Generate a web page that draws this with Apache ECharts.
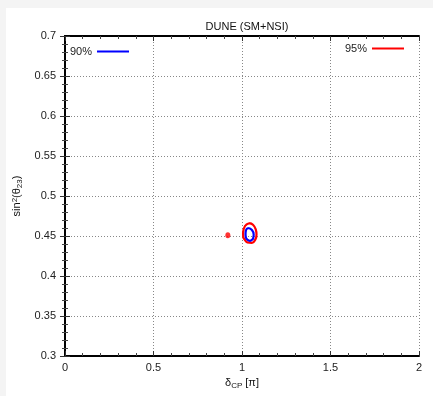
<!DOCTYPE html>
<html>
<head>
<meta charset="utf-8">
<script src="https://cdn.jsdelivr.net/npm/echarts@6/dist/echarts.min.js"></script>
<style>html,body{margin:0;padding:0;background:#f4f4f4}#c{width:433px;height:396px}</style>
</head>
<body>
<div id="c"></div>
<script>
// 95% contour (red), closed loop
const red95X = [1.040, 1.062, 1.078, 1.082, 1.075, 1.056, 1.030, 1.017, 1.007, 1.006, 1.017, 1.040];
const red95Y = [0.4660, 0.4640, 0.4580, 0.4520, 0.4455, 0.4415, 0.4420, 0.4450, 0.4490, 0.4540, 0.4625, 0.4660];
// 90% contour (blue), closed loop
const blue90X = [1.034, 1.056, 1.066, 1.064, 1.058, 1.045, 1.030, 1.022, 1.020, 1.023, 1.034];
const blue90Y = [0.4600, 0.4575, 0.4520, 0.4480, 0.4455, 0.4440, 0.4455, 0.4480, 0.4525, 0.4575, 0.4600];
// isolated 95% island
const redDotX = [0.92];
const redDotY = [0.451];
const xTicks = [0, 0.5, 1, 1.5, 2];
const yTicks = [0.3, 0.35, 0.4, 0.45, 0.5, 0.55, 0.6, 0.65, 0.7];

const zip = (a, b) => a.map((v, i) => [v, b[i]]);
const font = 'Liberation Sans, Arial, sans-serif';
const chart = echarts.init(document.getElementById('c'));
const axisCommon = {
  axisLine: { show: true, lineStyle: { color: '#000', width: 2 } },
  axisTick: { show: true, inside: true, length: 5, lineStyle: { color: '#333', width: 1 } },
  minorTick: { show: true, splitNumber: 5, length: 3, lineStyle: { color: '#444' } },
};
chart.setOption({
  backgroundColor: '#f4f4f4',
  animation: false,
  graphic: [{ type: 'rect', z: -10, shape: { x: 6, y: 8, width: 433, height: 396 }, style: { fill: '#fff' } }],
  title: { text: 'DUNE (SM+NSI)', left: 242, textAlign: 'center', top: 16, textStyle: { fontFamily: font, fontSize: 11, fontWeight: 'normal', color: '#111' } },
  legend: [
    { data: ['90%'], left: 65, top: 41, align: 'right', icon: 'rect', itemWidth: 32, itemHeight: 2, itemGap: 6,
      textStyle: { fontFamily: font, fontSize: 11, color: '#222' } },
    { data: ['95%'], right: 24, top: 38, align: 'right', icon: 'rect', itemWidth: 32, itemHeight: 2,
      textStyle: { fontFamily: font, fontSize: 11, color: '#222' } }
  ],
  grid: { left: 65, right: 14, top: 36, bottom: 40 },
  xAxis: [
    Object.assign({ type: 'value', min: 0, max: 2, interval: 0.5, position: 'bottom',
      name: 'δ{sub|CP} [π]', nameLocation: 'middle', nameGap: 20,
      nameTextStyle: { fontFamily: font, fontSize: 11, color: '#111', rich: { sub: { fontSize: 8, verticalAlign: 'bottom', padding: [4, 0, 0, 0], fontFamily: font } } },
      axisLabel: { fontFamily: font, fontSize: 11, color: '#222', margin: 6, formatter: v => String(v) },
      splitLine: { show: true, lineStyle: { color: '#888', type: [1, 2], width: 1 } } }, axisCommon),
    Object.assign({ type: 'value', min: 0, max: 2, interval: 0.5, position: 'top',
      axisLabel: { show: false }, splitLine: { show: false } }, axisCommon)
  ],
  yAxis: [
    Object.assign({ type: 'value', min: 0.3, max: 0.7, interval: 0.05, position: 'left',
      name: 'sin{sup|2}(θ{sub|23})', nameLocation: 'middle', nameGap: 38, nameRotate: 90,
      nameTextStyle: { fontFamily: font, fontSize: 11, color: '#111',
        rich: { sub: { fontSize: 8, verticalAlign: 'bottom', padding: [4, 0, 0, 0], fontFamily: font },
                sup: { fontSize: 8, verticalAlign: 'top', padding: [0, 0, 5, 0], fontFamily: font } } },
      axisLabel: { fontFamily: font, fontSize: 11, color: '#222', margin: 9, formatter: v => String(+v.toFixed(2)) },
      splitLine: { show: true, lineStyle: { color: '#888', type: [1, 2], width: 1 } } }, axisCommon),
    Object.assign({ type: 'value', min: 0.3, max: 0.7, interval: 0.05, position: 'right',
      axisLabel: { show: false }, splitLine: { show: false } }, axisCommon)
  ],
  series: [
    { name: '90%', type: 'line', data: zip(blue90X, blue90Y), smooth: 0.5, showSymbol: false, z: 5,
      lineStyle: { color: '#0000ff', width: 2.2 }, itemStyle: { color: '#0000ff' } },
    { name: '95%', type: 'line', data: zip(red95X, red95Y), smooth: 0.5, showSymbol: false, z: 4,
      lineStyle: { color: '#ff0000', width: 2.2 }, itemStyle: { color: '#ff0000' } },
    { name: '95% island', type: 'scatter', data: zip(redDotX, redDotY), symbol: 'circle', symbolSize: [5, 6],
      itemStyle: { color: '#ff0000' } }
  ]
});
</script>
</body>
</html>
